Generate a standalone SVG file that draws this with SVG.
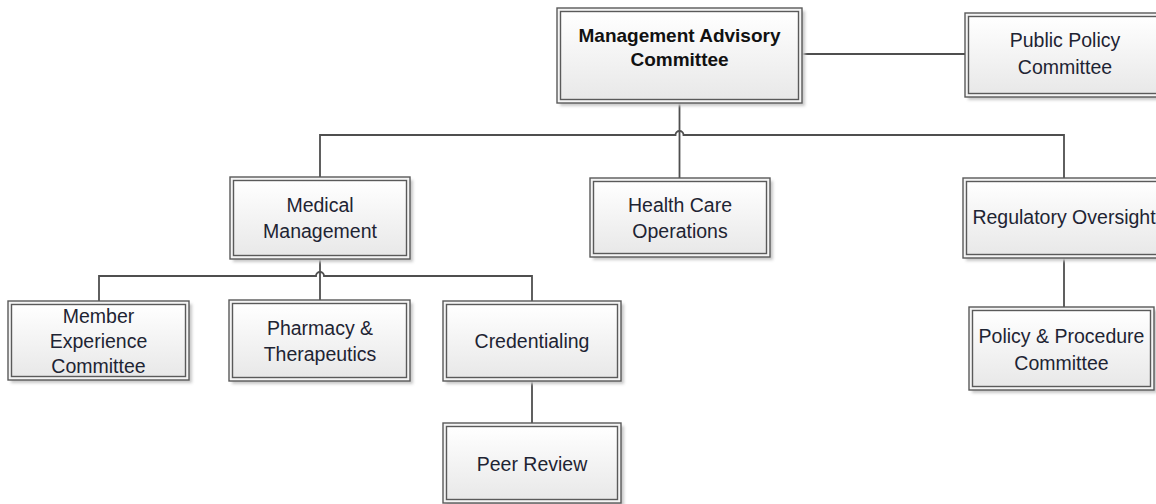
<svg xmlns="http://www.w3.org/2000/svg" width="1156" height="504" viewBox="0 0 1156 504">
  <style>
    .shadow { fill: #c8c8c8; filter: url(#soft); }
    .outer { fill: #f4f4f4; stroke: #5a5a5a; stroke-width: 1.4; }
    .inner { fill: url(#boxFill); stroke: #5a5a5a; stroke-width: 1.4; }
    .lbl { font-family: "Liberation Sans", Arial, sans-serif; font-size: 19.5px; fill: #1e2433; text-anchor: middle; }
    .bold { font-weight: bold; font-size: 19px; fill: #111; }
    .wire { fill: none; stroke: #4f4f4f; stroke-width: 1.8; }
  </style>
  <defs>
    <linearGradient id="boxFill" x1="0" y1="0" x2="0" y2="1">
      <stop offset="0" stop-color="#ffffff"/>
      <stop offset="1" stop-color="#e8e8e8"/>
    </linearGradient>
    <filter id="soft" x="-10%" y="-10%" width="120%" height="120%">
      <feGaussianBlur stdDeviation="1.5"/>
    </filter>
  </defs>
  <rect width="1156" height="504" fill="#ffffff"/>

  <!-- connectors, with line hops where a branch bar crosses a trunk -->
  <g id="connectors">
    <path class="wire" d="M802,54 H965"/>
    <path class="wire" d="M679.5,103 V178"/>
    <path class="wire" d="M320,177 V135 H675.5 a4,4 0 0 1 8,0 H1064 V178"/>
    <path class="wire" d="M99,301 V276 H316 a4,4 0 0 1 8,0 H532 V301"/>
    <path class="wire" d="M320,259 V300"/>
    <path class="wire" d="M532,381 V423"/>
    <path class="wire" d="M1064,258 V307"/>
  </g>

  <g id="mac">
    <rect class="shadow" x="560" y="11" width="245" height="95"/>
    <rect class="outer" x="557" y="8" width="245" height="95"/>
    <rect class="inner" x="560.5" y="11.5" width="238" height="88"/>
    <text class="lbl bold" x="679.5" y="42">Management Advisory</text>
    <text class="lbl bold" x="679.5" y="66">Committee</text>
  </g>

  <g id="public-policy">
    <rect class="shadow" x="968" y="16" width="200" height="84"/>
    <rect class="outer" x="965" y="13" width="200" height="84"/>
    <rect class="inner" x="968.5" y="16.5" width="193" height="77"/>
    <text class="lbl" x="1065" y="47">Public Policy</text>
    <text class="lbl" x="1065" y="74">Committee</text>
  </g>

  <g id="medical-management">
    <rect class="shadow" x="233" y="180" width="180" height="82"/>
    <rect class="outer" x="230" y="177" width="180" height="82"/>
    <rect class="inner" x="233.5" y="180.5" width="173" height="75"/>
    <text class="lbl" x="320" y="212">Medical</text>
    <text class="lbl" x="320" y="238">Management</text>
  </g>

  <g id="health-care-operations">
    <rect class="shadow" x="593" y="181" width="180" height="79"/>
    <rect class="outer" x="590" y="178" width="180" height="79"/>
    <rect class="inner" x="593.5" y="181.5" width="173" height="72"/>
    <text class="lbl" x="680" y="212">Health Care</text>
    <text class="lbl" x="680" y="238">Operations</text>
  </g>

  <g id="regulatory-oversight">
    <rect class="shadow" x="966" y="181" width="202" height="80"/>
    <rect class="outer" x="963" y="178" width="202" height="80"/>
    <rect class="inner" x="966.5" y="181.5" width="195" height="73"/>
    <text class="lbl" x="1064" y="224">Regulatory Oversight</text>
  </g>

  <g id="member-experience">
    <rect class="shadow" x="11" y="304" width="181" height="79"/>
    <rect class="outer" x="8" y="301" width="181" height="79"/>
    <rect class="inner" x="11.5" y="304.5" width="174" height="72"/>
    <text class="lbl" x="98.5" y="323">Member</text>
    <text class="lbl" x="98.5" y="348">Experience</text>
    <text class="lbl" x="98.5" y="373">Committee</text>
  </g>

  <g id="pharmacy">
    <rect class="shadow" x="232" y="303" width="181" height="81"/>
    <rect class="outer" x="229" y="300" width="181" height="81"/>
    <rect class="inner" x="232.5" y="303.5" width="174" height="74"/>
    <text class="lbl" x="320" y="335">Pharmacy &amp;</text>
    <text class="lbl" x="320" y="361">Therapeutics</text>
  </g>

  <g id="credentialing">
    <rect class="shadow" x="446" y="304" width="178" height="80"/>
    <rect class="outer" x="443" y="301" width="178" height="80"/>
    <rect class="inner" x="446.5" y="304.5" width="171" height="73"/>
    <text class="lbl" x="532" y="348">Credentialing</text>
  </g>

  <g id="peer-review">
    <rect class="shadow" x="446" y="426" width="178" height="80"/>
    <rect class="outer" x="443" y="423" width="178" height="80"/>
    <rect class="inner" x="446.5" y="426.5" width="171" height="73"/>
    <text class="lbl" x="532" y="471">Peer Review</text>
  </g>

  <g id="policy-procedure">
    <rect class="shadow" x="972" y="310" width="185" height="83"/>
    <rect class="outer" x="969" y="307" width="185" height="83"/>
    <rect class="inner" x="972.5" y="310.5" width="178" height="76"/>
    <text class="lbl" x="1061.5" y="343">Policy &amp; Procedure</text>
    <text class="lbl" x="1061.5" y="370">Committee</text>
  </g>
</svg>
